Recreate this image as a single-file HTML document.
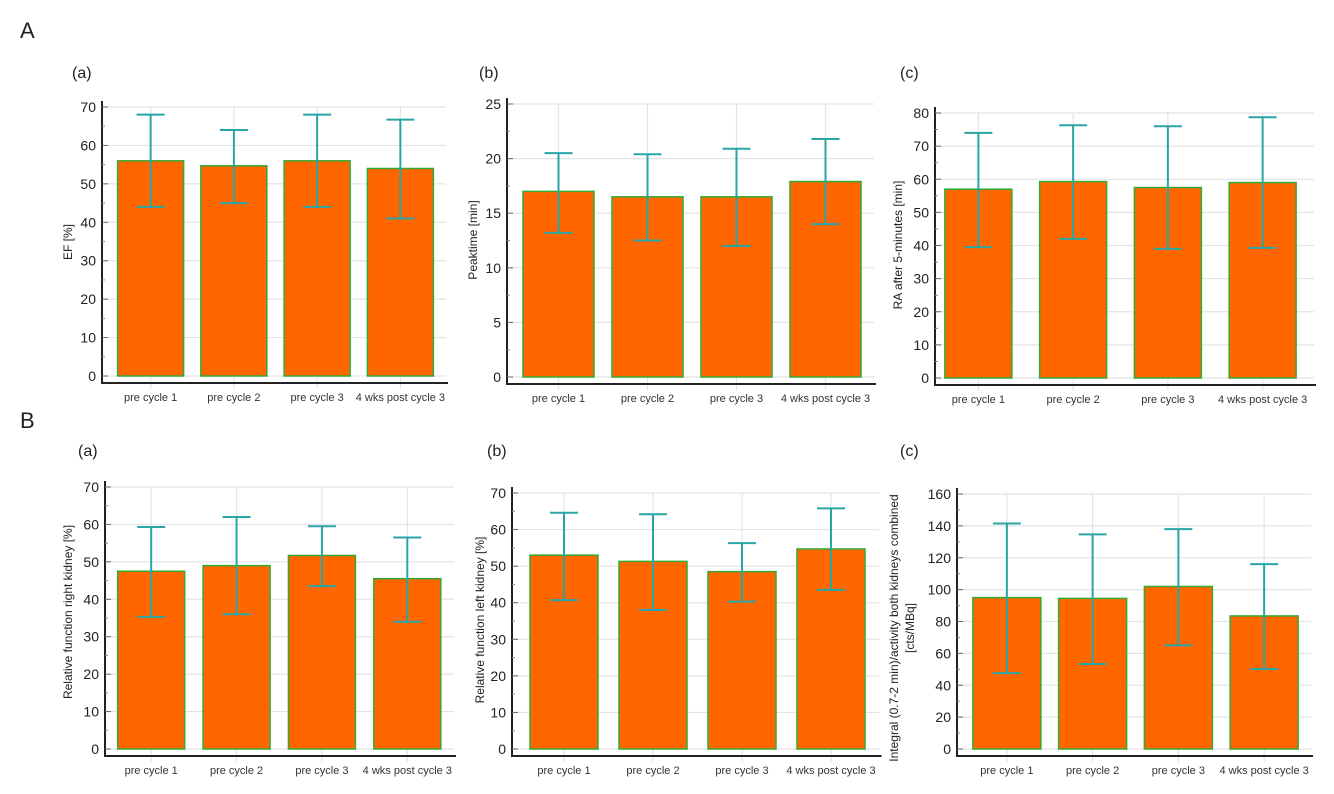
<!DOCTYPE html>
<html><head><meta charset="utf-8">
<style>
body{margin:0;background:#fff;}
svg{display:block;font-family:"Liberation Sans",sans-serif;}
</style></head>
<body>
<svg id="fig" width="1334" height="794" viewBox="0 0 1334 794">
<text x="20" y="38" font-size="22" fill="#222">A</text>
<text x="20" y="428" font-size="22" fill="#222">B</text>
</svg>
<script>
const categories = ["pre cycle 1","pre cycle 2","pre cycle 3","4 wks post cycle 3"];
const efMean = [56, 54.7, 56, 54];
const efUpper = [68, 64, 68, 66.7];
const efLower = [44, 45, 44, 41];
const peakMean = [17, 16.5, 16.5, 17.9];
const peakUpper = [20.5, 20.4, 20.9, 21.8];
const peakLower = [13.2, 12.5, 12, 14];
const raMean = [57, 59.3, 57.5, 59];
const raUpper = [74, 76.3, 76, 78.7];
const raLower = [39.5, 42, 39, 39.3];
const rightMean = [47.5, 49, 51.7, 45.5];
const rightUpper = [59.3, 62, 59.5, 56.5];
const rightLower = [35.3, 36, 43.5, 34];
const leftMean = [53, 51.3, 48.5, 54.7];
const leftUpper = [64.6, 64.2, 56.3, 65.8];
const leftLower = [40.7, 38, 40.3, 43.5];
const intMean = [95, 94.5, 102, 83.5];
const intUpper = [141.5, 134.7, 138, 116];
const intLower = [47.6, 53.3, 65, 50.2];
const ticksA = [0,10,20,30,40,50,60,70];
const ticksB = [0,5,10,15,20,25];
const ticksC = [0,10,20,30,40,50,60,70,80];
const ticksF = [0,20,40,60,80,100,120,140,160];

const NS="http://www.w3.org/2000/svg";
const svg=document.getElementById('fig');
function mk(tag,attrs,parent){const e=document.createElementNS(NS,tag);for(const k in attrs)e.setAttribute(k,attrs[k]);(parent||svg).appendChild(e);return e;}

function panel(p){
  const g=mk('g',{});
  
  
  const tmax=p.ticks[p.ticks.length-1];
  const y=v=>p.y0+(p.yTop-p.y0)*v/tmax;
  const band=(p.x1-p.x0)/categories.length;
  const xc=i=>p.x0+band*(i+0.5);
  const bw=p.bw;
  const pl=mk('text',{x:p.lx,y:p.ly,'font-size':16,fill:'#222'},g);pl.textContent=p.label;
  
  
  p.ticks.forEach(t=>{const l=mk('line',{x1:p.ax,x2:p.x1+4,y1:y(t),y2:y(t),stroke:'#e4e4e4','stroke-width':1.2},g);
    
    });
  categories.forEach((c,i)=>{const l=mk('line',{x1:xc(i),x2:xc(i),y1:y(tmax),y2:p.y0+13,stroke:'#e4e4e4','stroke-width':1.2},g);
    
    });
  categories.forEach((c,i)=>{
    const r=mk('rect',{x:xc(i)-bw/2,y:y(p.mean[i]),width:bw,height:y(0)-y(p.mean[i]),fill:'#ff6600',stroke:'#33aa33','stroke-width':1.5},g);
    
    
    const eb=mk('path',{d:`M${xc(i)} ${y(p.lower[i])}V${y(p.upper[i])}M${xc(i)-14} ${y(p.upper[i])}h28M${xc(i)-14} ${y(p.lower[i])}h28`,stroke:'#2aa5a5','stroke-width':2,fill:'none'},g);
    
    
    const t=mk('text',{x:xc(i),y:p.y0+25,'font-size':11,'text-anchor':'middle',fill:'#333'},g);t.textContent=c;
    
    
  });
  const ya=mk('line',{x1:p.ax,x2:p.ax,y1:y(tmax)-6,y2:p.y0+7,stroke:'#222','stroke-width':2},g);
  
  
  const xa=mk('line',{x1:p.ax-1,x2:p.x1+6,y1:p.y0+7,y2:p.y0+7,stroke:'#222','stroke-width':2},g);
  
  
  p.ticks.forEach((t,k)=>{
    mk('line',{x1:p.ax,x2:p.ax+6,y1:y(t),y2:y(t),stroke:'#666'},g);
    if(k<p.ticks.length-1){const m=(t+p.ticks[k+1])/2;mk('line',{x1:p.ax,x2:p.ax+3,y1:y(m),y2:y(m),stroke:'#888'},g);}
    const tx=mk('text',{x:p.ax-6,y:y(t)+5,'font-size':14,'text-anchor':'end',fill:'#222'},g);tx.textContent=t;
    
    
  });
  p.title.forEach((s,k)=>{
    const tx=p.tx+k*16;
    const tt=mk('text',{x:tx,y:p.ty,'font-size':12,'text-anchor':'middle',fill:'#222',transform:`rotate(-90 ${tx} ${p.ty})`},g);tt.textContent=s;
    
    
  });
}
panel({name:'panel-a-ef',label:'(a)',lx:72,ly:78,ax:102,x0:109,x1:442,bw:66,y0:376,yTop:107,ticks:ticksA,mean:efMean,upper:efUpper,lower:efLower,title:['EF [%]'],tx:72,ty:242});
panel({name:'panel-a-peaktime',label:'(b)',lx:479,ly:78,ax:507,x0:514,x1:870,bw:71,y0:377,yTop:104,ticks:ticksB,mean:peakMean,upper:peakUpper,lower:peakLower,title:['Peaktime [min]'],tx:477,ty:240});
panel({name:'panel-a-ra',label:'(c)',lx:900,ly:78,ax:935,x0:931,x1:1310,bw:67,y0:378,yTop:113,ticks:ticksC,mean:raMean,upper:raUpper,lower:raLower,title:['RA after 5-minutes [min]'],tx:902,ty:245});
panel({name:'panel-b-right-kidney',label:'(a)',lx:78,ly:456,ax:105,x0:108.5,x1:450,bw:67,y0:749,yTop:487,ticks:ticksA,mean:rightMean,upper:rightUpper,lower:rightLower,title:['Relative function right kidney [%]'],tx:72,ty:612});
panel({name:'panel-b-left-kidney',label:'(b)',lx:487,ly:456,ax:512,x0:519.5,x1:875.5,bw:68,y0:749,yTop:493,ticks:ticksA,mean:leftMean,upper:leftUpper,lower:leftLower,title:['Relative function left kidney [%]'],tx:484,ty:620});
panel({name:'panel-b-integral',label:'(c)',lx:900,ly:456,ax:957,x0:964,x1:1307,bw:68,y0:749,yTop:494,ticks:ticksF,mean:intMean,upper:intUpper,lower:intLower,title:['Integral (0.7-2 min)/activity both kidneys combined','[cts/MBq]'],tx:898,ty:628});
</script>
</body></html>
